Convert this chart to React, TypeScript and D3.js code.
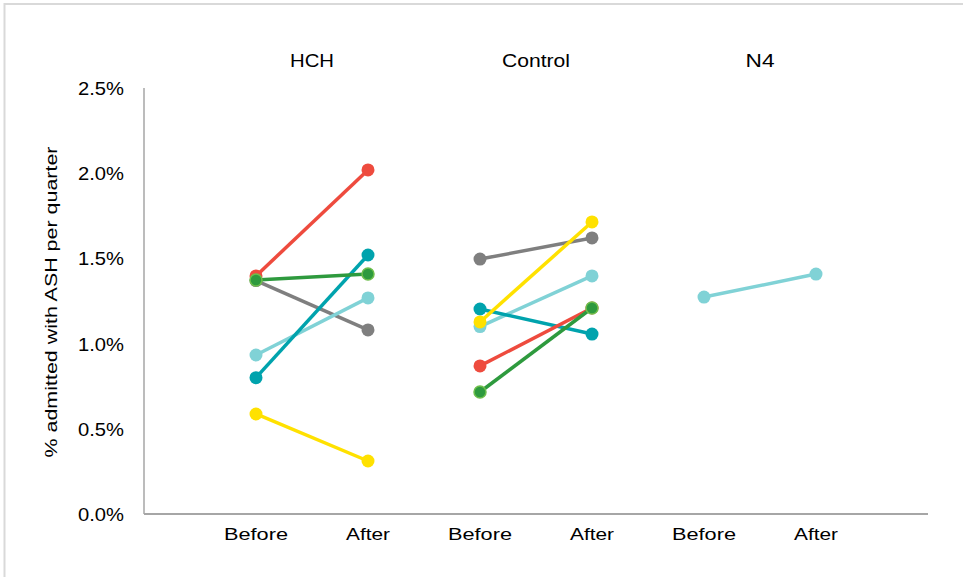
import React from "react";
import * as d3 from "d3";

const categories = ["Before", "After", "Before", "After", "Before", "After"];
const groups = ["HCH", "Control", "N4"];
const yTicks = [0, 0.005, 0.01, 0.015, 0.02, 0.025];

// each series: [HCH before, HCH after, Control before, Control after, N4 before, N4 after]
const seriesNames = ["Gray", "Light blue", "Teal", "Yellow", "Red", "Green"];
const seriesColors = ["#7F7F7F", "#80D2D6", "#00A3AD", "#FFE100", "#EE4B3E", "#2E9A3E"];
const seriesStroke = [null, null, null, null, null, "#6DBE4B"];
const grayValues = [0.0137, 0.0108, 0.01496, 0.0162, null, null];
const lightBlueValues = [0.00933, 0.01268, 0.0110, 0.01397, 0.01273, 0.01408];
const tealValues = [0.0080, 0.0152, 0.01203, 0.01056, null, null];
const yellowValues = [0.00587, 0.00311, 0.01127, 0.01714, null, null];
const redValues = [0.01397, 0.02019, 0.00869, 0.01209, null, null];
const greenValues = [0.01373, 0.01408, 0.00716, 0.01209, null, null];
const allValues = [grayValues, lightBlueValues, tealValues, yellowValues, redValues, greenValues];

const W = 963;
const H = 577;
const font = "'Liberation Sans', Arial, sans-serif";

export default function App() {
  const x = d3.scaleLinear().domain([0, 7]).range([144, 928]);
  const y = d3.scaleLinear().domain([0, 0.025]).range([514, 88]);
  const fmt = d3.format(".1%");

  return (
    <svg
      width={W}
      height={H}
      style={{ position: "absolute", left: 0, top: 0, background: "#fff" }}
      fontFamily={font}
    >
      <rect x={4.5} y={4} width={1200} height={1200} fill="#fff" stroke="#D9D9D9" strokeWidth={2} />
      {/* axes */}
      <line x1={x(0)} x2={x(0)} y1={y(0.025)} y2={y(0)} stroke="#A6A6A6" strokeWidth={1.5} />
      <line x1={x(0)} x2={x(7)} y1={y(0)} y2={y(0)} stroke="#A6A6A6" strokeWidth={2} />
      {yTicks.map((t) => (
        <text
          key={t}
          x={124}
          y={y(t) + 7}
          textAnchor="end"
          fontSize={18}
          textLength={46}
          lengthAdjust="spacingAndGlyphs"
          fill="#000"
        >
          {fmt(t)}
        </text>
      ))}
      {categories.map((c, i) => (
        <text
          key={i}
          x={x(i + 1)}
          y={540}
          textAnchor="middle"
          fontSize={17}
          textLength={c === "Before" ? 64 : 44}
          lengthAdjust="spacingAndGlyphs"
          fill="#000"
        >
          {c}
        </text>
      ))}
      {groups.map((g, i) => (
        <text
          key={g}
          x={x(i * 2 + 1.5)}
          y={67}
          textAnchor="middle"
          fontSize={18}
          textLength={g === "HCH" ? 44 : g === "Control" ? 68 : 29}
          lengthAdjust="spacingAndGlyphs"
          fill="#000"
        >
          {g}
        </text>
      ))}
      <text
        transform={`translate(57,302) rotate(-90)`}
        textAnchor="middle"
        fontSize={16.5}
        textLength={311}
        lengthAdjust="spacingAndGlyphs"
        fill="#000"
      >
        % admitted with ASH per quarter
      </text>
      {/* series */}
      {allValues.map((vals, si) => {
        const segs: Array<[number, number]> = [];
        for (let g = 0; g < 3; g++) {
          const a = vals[g * 2];
          const b = vals[g * 2 + 1];
          if (a != null && b != null) segs.push([g * 2, g * 2 + 1]);
        }
        return (
          <g key={seriesNames[si]}>
            {segs.map(([i0, i1]) => (
              <line
                key={i0}
                x1={x(i0 + 1)}
                y1={y(vals[i0] as number)}
                x2={x(i1 + 1)}
                y2={y(vals[i1] as number)}
                stroke={seriesColors[si]}
                strokeWidth={3.5}
              />
            ))}
            {vals.map((v, i) =>
              v == null ? null : (
                <circle
                  key={i}
                  cx={x(i + 1)}
                  cy={y(v)}
                  r={seriesStroke[si] ? 6 : 6.5}
                  fill={seriesColors[si]}
                  stroke={seriesStroke[si] ?? "none"}
                  strokeWidth={seriesStroke[si] ? 1.5 : 0}
                />
              )
            )}
          </g>
        );
      })}
    </svg>
  );
}
